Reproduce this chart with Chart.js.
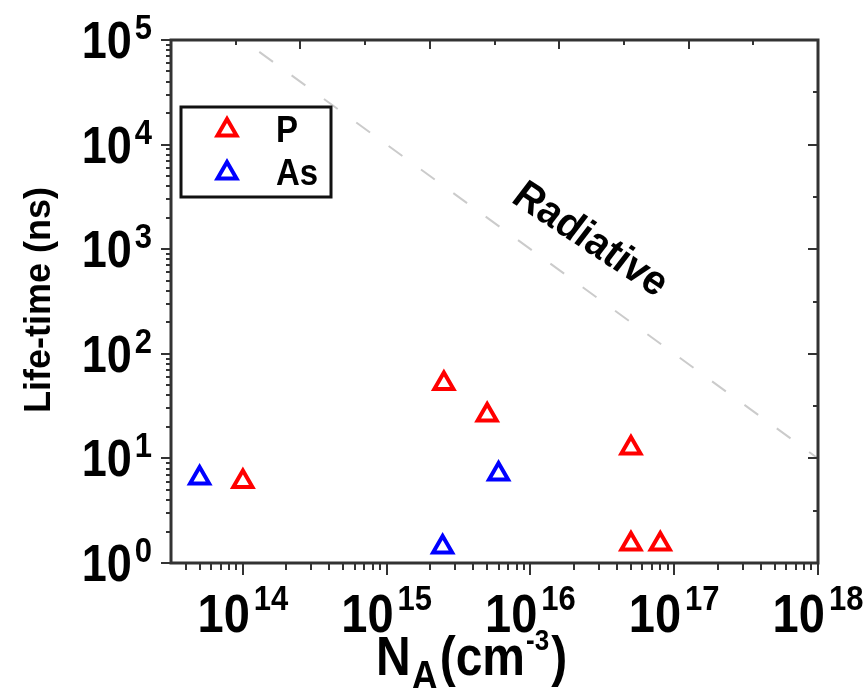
<!DOCTYPE html>
<html>
<head>
<meta charset="utf-8">
<script src="https://cdn.jsdelivr.net/npm/chart.js@4.4.1/dist/chart.umd.min.js"></script>
<style>
  html, body { margin: 0; padding: 0; background: #fff; }
  #wrap { width: 866px; height: 688px; position: relative; }
</style>
</head>
<body>
<div id="wrap"><canvas id="lifetimeChart"></canvas></div>
<script>
// values
const pDoping = [1e14, 2.5e15, 5e15, 5e16, 5e16, 8e16];
const pLifetime = [6.0, 52, 26, 12.6, 1.52, 1.52];
const asDoping = [5e13, 2.45e15, 6e15];
const asLifetime = [6.5, 1.42, 7.1];
const radiativeDoping = [1.3e14, 1e18];
const radiativeLifetime = [7.7e4, 10];
const xDecades = [14, 15, 16, 17, 18];
const yDecades = [0, 1, 2, 3, 4, 5];

const AXIS = '#333';
const FONT = 'Liberation Sans, Arial, sans-serif';
const S = 1.14; // the source figure is a bit stretched vertically

const toPoints = (xs, ys) => xs.map((x, i) => ({ x: x, y: ys[i] }));

function stretchText(ctx, text, x, y, font, align) {
  ctx.save();
  ctx.font = font;
  ctx.textAlign = align || 'left';
  ctx.textBaseline = 'alphabetic';
  ctx.translate(x, y);
  ctx.scale(1, S);
  ctx.fillText(text, 0, 0);
  ctx.restore();
}

function triangle(ctx, cx, cy, r, color) {
  ctx.save();
  ctx.beginPath();
  ctx.moveTo(cx, cy - r);
  ctx.lineTo(cx + r * 0.866, cy + r / 2);
  ctx.lineTo(cx - r * 0.866, cy + r / 2);
  ctx.closePath();
  ctx.fillStyle = '#fff';
  ctx.fill();
  ctx.lineWidth = 4;
  ctx.strokeStyle = color;
  ctx.stroke();
  ctx.restore();
}

const decorations = {
  id: 'decorations',
  afterDraw(chart) {
    const ctx = chart.ctx;
    const a = chart.chartArea;
    const x = chart.scales.x, y = chart.scales.y;
    const x2 = chart.scales.x2, y2 = chart.scales.y2;

    ctx.save();
    ctx.strokeStyle = AXIS;
    ctx.lineWidth = 2;
    ctx.beginPath();
    // log ticks, outward on bottom and left
    for (let n = 13; n <= 18; n++) {
      for (let k = 1; k <= 9; k++) {
        const v = k * Math.pow(10, n);
        if (v < x.min * 0.999 || v > x.max * 1.001) continue;
        const px = Math.round(x.getPixelForValue(v));
        ctx.moveTo(px, a.bottom);
        ctx.lineTo(px, a.bottom + (k === 1 ? 12 : 7));
      }
    }
    for (let n = 0; n <= 5; n++) {
      for (let k = 1; k <= 9; k++) {
        const v = k * Math.pow(10, n);
        if (v < y.min * 0.999 || v > y.max * 1.001) continue;
        const py = Math.round(y.getPixelForValue(v));
        ctx.moveTo(a.left, py);
        ctx.lineTo(a.left - (k === 1 ? 10 : 5), py);
      }
    }
    // linked top / right axes, inward ticks
    for (let i = 1; i <= 9; i++) {
      const px = Math.round(x2.getPixelForValue(i));
      ctx.moveTo(px, a.top);
      ctx.lineTo(px, a.top + (i % 2 === 0 ? 9 : 5));
      const py = Math.round(y2.getPixelForValue(i));
      ctx.moveTo(a.right, py);
      ctx.lineTo(a.right - (i % 2 === 0 ? 10 : 5), py);
    }
    ctx.stroke();

    ctx.lineWidth = 3;
    ctx.strokeRect(a.left, a.top, a.right - a.left, a.bottom - a.top);
    ctx.restore();

    ctx.save();
    ctx.fillStyle = '#000';
    // x tick labels
    const xBig = 'bold 47px ' + FONT, xSup = 'bold 31px ' + FONT;
    xDecades.forEach(n => {
      const px = x.getPixelForValue(Math.pow(10, n));
      ctx.font = xBig;
      const w1 = ctx.measureText('10').width;
      ctx.font = xSup;
      const w2 = ctx.measureText(String(n)).width;
      const start = px - (w1 + 4 + w2) / 2;
      stretchText(ctx, '10', start, 632, xBig);
      stretchText(ctx, String(n), start + w1 + 4, 610, xSup);
    });
    // y tick labels
    const yBig = 'bold 45px ' + FONT, ySup = 'bold 31px ' + FONT;
    yDecades.forEach(n => {
      const py = y.getPixelForValue(Math.pow(10, n));
      ctx.font = ySup;
      const w2 = ctx.measureText(String(n)).width;
      stretchText(ctx, String(n), 152 - w2, py - 1, ySup);
      stretchText(ctx, '10', 152 - w2 - 3, py + 18, yBig, 'right');
    });

    // x title: N_A(cm^-3)
    const tBig = 'bold 48px ' + FONT, tSub = 'bold 36px ' + FONT, tSup = 'bold 26px ' + FONT;
    let cx = 376;
    const piece = (txt, font, base, gap) => {
      stretchText(ctx, txt, cx, base, font);
      ctx.font = font;
      cx += ctx.measureText(txt).width + (gap || 0);
    };
    piece('N', tBig, 675, 1);
    piece('A', tSub, 689, 2);
    piece('(cm', tBig, 675, 1);
    piece('-3', tSup, 650, 2);
    piece(')', tBig, 675);

    // y title
    ctx.save();
    ctx.translate(50, 300);
    ctx.rotate(-Math.PI / 2);
    ctx.font = 'bold 36px ' + FONT;
    ctx.textAlign = 'center';
    ctx.textBaseline = 'alphabetic';
    ctx.fillText('Life-time (ns)', 0, 0);
    ctx.restore();

    // Radiative label
    ctx.save();
    ctx.translate(590, 240);
    ctx.scale(1, S);
    ctx.rotate(30 * Math.PI / 180);
    ctx.font = 'italic bold 38px ' + FONT;
    ctx.textAlign = 'center';
    ctx.textBaseline = 'middle';
    ctx.fillText('Radiative', 0, 0);
    ctx.restore();

    // legend
    ctx.save();
    ctx.lineWidth = 3;
    ctx.strokeStyle = '#111';
    ctx.strokeRect(181, 107, 150, 90);
    ctx.restore();
    triangle(ctx, 227, 130, 11, '#ff0000');
    triangle(ctx, 227, 173, 11, '#0000ff');
    const lFont = 'bold 33px ' + FONT;
    stretchText(ctx, 'P', 276, 142, lFont);
    stretchText(ctx, 'As', 276, 185, lFont);
    ctx.restore();
  }
};

new Chart(document.getElementById('lifetimeChart'), {
  type: 'scatter',
  data: {
    datasets: [
      {
        type: 'line',
        label: 'Radiative',
        data: toPoints(radiativeDoping, radiativeLifetime),
        borderColor: '#cbcbcb',
        borderWidth: 2,
        borderDash: [17, 23],
        pointRadius: 0,
        fill: false
      },
      {
        label: 'P',
        data: toPoints(pDoping, pLifetime),
        pointStyle: 'triangle',
        pointRadius: 11,
        borderWidth: 4,
        borderColor: '#ff0000',
        backgroundColor: '#ffffff'
      },
      {
        label: 'As',
        data: toPoints(asDoping, asLifetime),
        pointStyle: 'triangle',
        pointRadius: 11,
        borderWidth: 4,
        borderColor: '#0000ff',
        backgroundColor: '#ffffff'
      }
    ]
  },
  options: {
    responsive: true,
    maintainAspectRatio: false,
    animation: false,
    events: [],
    layout: { padding: { left: 171, top: 40, right: 48, bottom: 125 } },
    plugins: { legend: { display: false }, tooltip: { enabled: false } },
    scales: {
      x: { type: 'logarithmic', min: Math.pow(10, 13.5), max: 1e18, display: false },
      y: { type: 'logarithmic', min: 1, max: 1e5, display: false },
      x2: { type: 'linear', position: 'top', min: 0, max: 10, display: false },
      y2: { type: 'linear', position: 'right', min: 0, max: 10, display: false }
    }
  },
  plugins: [decorations]
});
</script>
</body>
</html>
